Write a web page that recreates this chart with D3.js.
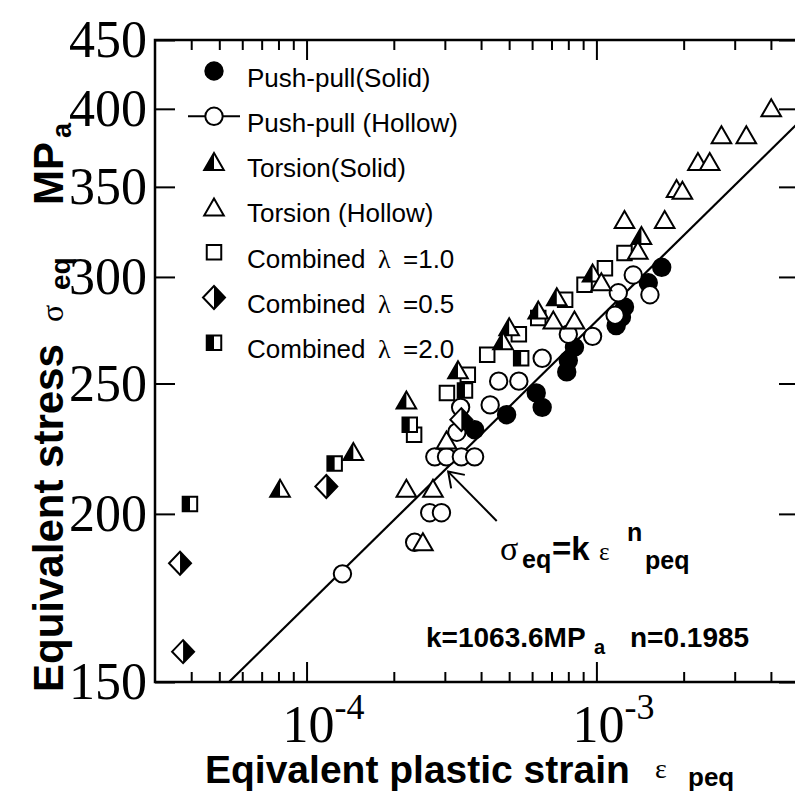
<!DOCTYPE html>
<html>
<head>
<meta charset="utf-8">
<script src="https://cdn.jsdelivr.net/npm/d3@7"></script>
<style>
  html, body { margin: 0; padding: 0; background: #fff; }
  svg { display: block; }
</style>
</head>
<body>
<div id="chart"></div>
<script>
// values: [equivalent plastic strain, equivalent stress (MPa)]
const pushPullSolid = [
  [1.68e-3, 305], [1.51e-3, 297], [1.25e-3, 285], [1.22e-3, 280], [1.17e-3, 276],
  [8.4e-4, 266], [8.0e-4, 260], [7.9e-4, 255], [6.2e-4, 246], [6.5e-4, 240],
  [4.9e-4, 237], [3.8e-4, 231]
]
const pushPullHollow = [
  [1.34e-3, 301], [1.53e-3, 291], [1.19e-3, 292], [1.16e-3, 281], [9.7e-4, 271],
  [8.0e-4, 272], [6.5e-4, 261], [5.4e-4, 251], [4.6e-4, 251], [4.3e-4, 241],
  [3.4e-4, 240], [3.3e-4, 230], [2.77e-4, 220.5], [3.04e-4, 220.5], [3.42e-4, 220.5],
  [3.8e-4, 220.5], [2.66e-4, 200.4], [2.92e-4, 200.4], [2.36e-4, 190.5], [1.33e-4, 180.5]
]
const torsionSolid = [
  [1.43e-3, 322], [9.7e-4, 302], [7.3e-4, 290], [6.3e-4, 283.5], [5.0e-4, 275.5],
  [4.76e-4, 269], [3.33e-4, 256], [2.21e-4, 243], [1.45e-4, 222.5], [8.1e-5, 209]
]
const torsionHollow = [
  [4.01e-3, 400.7], [2.70e-3, 382.7], [3.29e-3, 382.7], [2.24e-3, 365.6], [2.46e-3, 365.6],
  [1.89e-3, 349], [1.98e-3, 348], [1.25e-3, 331], [1.72e-3, 331], [1.39e-3, 314],
  [1.04e-3, 297.6], [7.1e-4, 278.7], [8.4e-4, 278.7], [2.21e-4, 209], [2.73e-4, 209],
  [2.52e-4, 190.7], [3.04e-4, 227]
]
const combined10 = [
  [1.25e-3, 312.5], [1.07e-3, 304.5], [9.1e-4, 296], [7.8e-4, 288.5], [6.3e-4, 279.6],
  [5.4e-4, 272], [4.2e-4, 262.6], [3.6e-4, 253.8], [3.05e-4, 246], [2.35e-4, 229]
]
const combined05 = [
  [1.17e-4, 209.6], [3.66e-5, 183.8], [3.75e-5, 158], [3.42e-4, 235]
]
const combined20 = [
  [2.27e-4, 233], [1.25e-4, 218], [3.96e-5, 203.4], [5.5e-4, 261], [3.52e-4, 247]
]

// fitted power law, drawn
const fitStrain = [5.4e-5, 5e-3]
const fitStress = [150, 391]

const stressTicks = [150, 200, 250, 300, 350, 400, 450]
const strainDecades = [-4, -3]
const legendLabels = [
  "Push-pull(Solid)", "Push-pull (Hollow)", "Torsion(Solid)", "Torsion (Hollow)",
  "Combined", "Combined", "Combined"
]
const lambdaLabels = ["", "", "", "", "=1.0", "=0.5", "=2.0"]

const width = 795, height = 795
const plot = { left: 155, right: 799, top: 40, bottom: 682 }

const svg = d3.select("#chart").append("svg")
  .attr("width", width)
  .attr("height", height)
  .attr("viewBox", `0 0 ${width} ${height}`)

const x = d3.scaleLog().domain([3e-5, 5e-3]).range([plot.left, plot.right])
const y = d3.scaleLog().domain([150, 450]).range([plot.bottom, plot.top])

const defs = svg.append("defs")
defs.append("clipPath").attr("id", "clipL")
  .append("rect").attr("x", -20).attr("y", -20).attr("width", 20).attr("height", 40)
defs.append("clipPath").attr("id", "clipR")
  .append("rect").attr("x", 0).attr("y", -20).attr("width", 20).attr("height", 40)
defs.append("clipPath").attr("id", "clipPlot")
  .append("rect").attr("x", plot.left).attr("y", plot.top)
  .attr("width", plot.right - plot.left).attr("height", plot.bottom - plot.top)

// ticks: minor at 2..9 x 10^n, major at decades, all pointing inward
const minorTicks = []
for (let e = -5; e <= -3; e++) {
  for (let m = 2; m <= 9; m++) {
    const v = m * Math.pow(10, e)
    if (v > 3.01e-5 && v < 4.99e-3) minorTicks.push(v)
  }
}
const majorTicks = strainDecades.map(e => Math.pow(10, e))

function axisStyle(g) {
  g.select(".domain").remove()
  g.selectAll(".tick line").attr("stroke", "#000").attr("stroke-width", 2)
  g.selectAll(".tick text").remove()
}

svg.append("g").attr("transform", `translate(0,${plot.bottom})`)
  .call(d3.axisBottom(x).tickValues(minorTicks).tickSize(-10)).call(axisStyle)
svg.append("g").attr("transform", `translate(0,${plot.bottom})`)
  .call(d3.axisBottom(x).tickValues(majorTicks).tickSize(-20)).call(axisStyle)
svg.append("g").attr("transform", `translate(0,${plot.top})`)
  .call(d3.axisTop(x).tickValues(minorTicks).tickSize(-10)).call(axisStyle)
svg.append("g").attr("transform", `translate(0,${plot.top})`)
  .call(d3.axisTop(x).tickValues(majorTicks).tickSize(-20)).call(axisStyle)
svg.append("g").attr("transform", `translate(${plot.right},0)`)
  .call(d3.axisRight(y).tickValues(stressTicks).tickSize(-20)).call(axisStyle)

const yAxis = svg.append("g").attr("transform", `translate(${plot.left},0)`)
  .call(d3.axisLeft(y).tickValues(stressTicks).tickSize(-20).tickPadding(8).tickFormat(d3.format("d")))
yAxis.select(".domain").remove()
yAxis.selectAll(".tick line").attr("stroke", "#000").attr("stroke-width", 2)
yAxis.selectAll(".tick text")
  .attr("font-family", "'Liberation Serif', 'Times New Roman', serif")
  .attr("font-size", 52)
  .attr("fill", "#000")

// frame
svg.append("rect")
  .attr("x", plot.left).attr("y", plot.top)
  .attr("width", plot.right - plot.left).attr("height", plot.bottom - plot.top)
  .attr("fill", "none").attr("stroke", "#000").attr("stroke-width", 2.5)

// x tick labels 10^-4, 10^-3
const xLab = svg.append("g").attr("font-family", "'Liberation Serif', 'Times New Roman', serif").attr("fill", "#000")
strainDecades.forEach(e => {
  const px = x(Math.pow(10, e))
  xLab.append("text").attr("x", px + 2).attr("y", 742).attr("text-anchor", "middle")
    .attr("font-size", 52).text("10")
  xLab.append("text").attr("x", px + 28).attr("y", 719).attr("font-size", 36).text(String(e))
})

// fitted line
const line = d3.line().x(d => x(d[0])).y(d => y(d[1]))
svg.append("path")
  .datum(fitStrain.map((s, i) => [s, fitStress[i]]))
  .attr("clip-path", "url(#clipPlot)")
  .attr("d", line)
  .attr("fill", "none").attr("stroke", "#000").attr("stroke-width", 2.2)

// marker shapes
const shapes = {
  circle: d3.symbol(d3.symbolCircle, Math.PI * 8.7 * 8.7)(),
  square: d3.symbol(d3.symbolSquare, 14.5 * 14.5)(),
  triangle: "M0,-8.5L9.8,8.5L-9.8,8.5Z",
  diamond: "M0,-11.5L11,0L0,11.5L-11,0Z"
}

function drawMarker(g, shape, fill) {
  g.append("path").attr("d", shapes[shape]).attr("fill", fill === "black" ? "#000" : "#fff")
  if (fill === "left" || fill === "right") {
    g.append("path").attr("d", shapes[shape]).attr("fill", "#000")
      .attr("clip-path", fill === "left" ? "url(#clipL)" : "url(#clipR)")
  }
  g.append("path").attr("d", shapes[shape]).attr("fill", "none")
    .attr("stroke", "#000").attr("stroke-width", 2).attr("stroke-linejoin", "miter")
}

const series = [
  { data: combined10, shape: "square", fill: "white" },
  { data: combined20, shape: "square", fill: "left" },
  { data: pushPullSolid, shape: "circle", fill: "black" },
  { data: pushPullHollow, shape: "circle", fill: "white" },
  { data: combined05, shape: "diamond", fill: "right" },
  { data: torsionSolid, shape: "triangle", fill: "left" },
  { data: torsionHollow, shape: "triangle", fill: "white" }
]

series.forEach(s => {
  svg.append("g").selectAll("g")
    .data(s.data)
    .enter()
    .append("g")
    .attr("transform", d => `translate(${x(d[0])},${y(d[1])})`)
    .each(function() { drawMarker(d3.select(this), s.shape, s.fill) })
})

// legend (same order as the labels)
const legendStyle = [
  { shape: "circle", fill: "black" },
  { shape: "circle", fill: "white" },
  { shape: "triangle", fill: "left" },
  { shape: "triangle", fill: "white" },
  { shape: "square", fill: "white" },
  { shape: "diamond", fill: "right" },
  { shape: "square", fill: "left" }
]
const legend = svg.append("g")
legendLabels.forEach((label, i) => {
  const cy = 71 + i * 45.3
  if (i === 1) {
    legend.append("line").attr("x1", 188).attr("x2", 240).attr("y1", cy).attr("y2", cy)
      .attr("stroke", "#000").attr("stroke-width", 2)
  }
  drawMarker(legend.append("g").attr("transform", `translate(214,${cy})`), legendStyle[i].shape, legendStyle[i].fill)
  const t = legend.append("text").attr("x", 247).attr("y", cy + 15.5)
    .attr("font-family", "'Liberation Sans', Arial, sans-serif").attr("font-size", 26).attr("fill", "#000")
  t.append("tspan").text(label)
  if (lambdaLabels[i]) {
    t.append("tspan").attr("x", 378).attr("font-family", "'Liberation Serif', serif").attr("font-size", 26).text("\u03bb")
    t.append("tspan").attr("x", 403).text(lambdaLabels[i])
  }
})

// arrow pointing at the fitted line
const arrowTip = [x(3.08e-4), y(215)]
const arrowTail = [x(4.53e-4), y(197.6)]
svg.append("line")
  .attr("x1", arrowTail[0]).attr("y1", arrowTail[1]).attr("x2", arrowTip[0]).attr("y2", arrowTip[1])
  .attr("stroke", "#000").attr("stroke-width", 2)
const ang = Math.atan2(arrowTail[1] - arrowTip[1], arrowTail[0] - arrowTip[0])
const barb = a => [arrowTip[0] + 17 * Math.cos(ang + a), arrowTip[1] + 17 * Math.sin(ang + a)]
const b1 = barb(0.6), b2 = barb(-0.6)
svg.append("path")
  .attr("d", `M${b1[0]},${b1[1]}L${arrowTip[0]},${arrowTip[1]}L${b2[0]},${b2[1]}`)
  .attr("fill", "none").attr("stroke", "#000").attr("stroke-width", 2)

// formula annotation
const bold = "'Liberation Sans', Arial, sans-serif"
const serif = "'Liberation Serif', 'Times New Roman', serif"
const note = svg.append("g").attr("fill", "#000")
note.append("text").attr("x", 500).attr("y", 560).attr("font-family", serif).attr("font-size", 34).text("\u03c3")
note.append("text").attr("x", 522).attr("y", 568).attr("font-family", bold).attr("font-weight", "bold").attr("font-size", 25).text("eq")
note.append("text").attr("x", 552).attr("y", 560).attr("font-family", bold).attr("font-weight", "bold").attr("font-size", 33).text("=k")
note.append("text").attr("x", 599).attr("y", 560).attr("font-family", serif).attr("font-size", 25).text("\u03b5")
note.append("text").attr("x", 627).attr("y", 541).attr("font-family", bold).attr("font-weight", "bold").attr("font-size", 25).text("n")
note.append("text").attr("x", 645).attr("y", 569).attr("font-family", bold).attr("font-weight", "bold").attr("font-size", 25).text("peq")

note.append("text").attr("x", 426).attr("y", 647).attr("font-family", bold).attr("font-weight", "bold").attr("font-size", 28).text("k=1063.6MP")
note.append("text").attr("x", 594).attr("y", 654).attr("font-family", bold).attr("font-weight", "bold").attr("font-size", 20).text("a")
note.append("text").attr("x", 630).attr("y", 647).attr("font-family", bold).attr("font-weight", "bold").attr("font-size", 28).text("n=0.1985")

// axis titles
const xt = svg.append("g").attr("fill", "#000")
xt.append("text").attr("x", 205).attr("y", 783).attr("font-family", bold).attr("font-weight", "bold")
  .attr("font-size", 39).text("Eqivalent plastic strain")
xt.append("text").attr("x", 655).attr("y", 778).attr("font-family", serif).attr("font-size", 28).text("\u03b5")
xt.append("text").attr("x", 688).attr("y", 786).attr("font-family", bold).attr("font-weight", "bold").attr("font-size", 26).text("peq")

const yt = svg.append("g").attr("fill", "#000")
const rot = (px, py) => `translate(${px},${py}) rotate(-90)`
yt.append("text").attr("transform", rot(63, 692)).attr("font-family", bold).attr("font-weight", "bold")
  .attr("font-size", 42).text("Equivalent stress")
yt.append("text").attr("transform", rot(63, 322)).attr("font-family", serif).attr("font-size", 32).text("\u03c3")
yt.append("text").attr("transform", rot(70, 290)).attr("font-family", bold).attr("font-weight", "bold").attr("font-size", 28).text("eq")
yt.append("text").attr("transform", rot(63, 205)).attr("font-family", bold).attr("font-weight", "bold").attr("font-size", 42).text("MP")
yt.append("text").attr("transform", rot(71, 138)).attr("font-family", bold).attr("font-weight", "bold").attr("font-size", 27).text("a")
</script>
</body>
</html>
